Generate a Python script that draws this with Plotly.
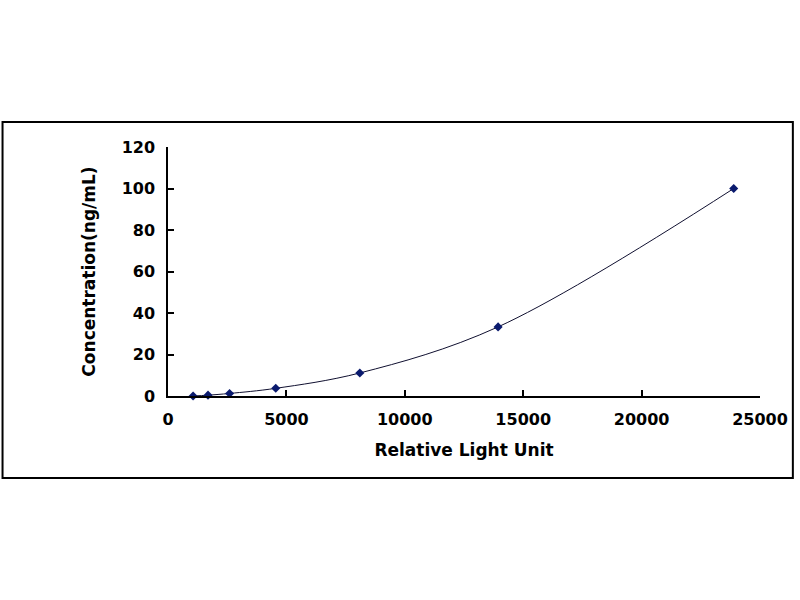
import plotly.graph_objects as go

# standard curve
rlu = [1060, 1690, 2600, 4550, 8100, 13940, 23890]
conc = [0, 0.41, 1.23, 3.7, 11.1, 33.3, 100]

x_ticks = [0, 5000, 10000, 15000, 20000, 25000]
x_labels = ["0", "5000", "10000", "15000", "20000", "25000"]
y_ticks = [0, 20, 40, 60, 80, 100, 120]

font_main = "DejaVu Sans"

fig = go.Figure()
fig.add_trace(go.Scatter(
    x=rlu, y=conc, mode="lines+markers",
    line=dict(color="#101030", width=1, shape="spline", smoothing=1.0),
    marker=dict(symbol="diamond", size=7, color="#0a1a6e"),
    cliponaxis=False, showlegend=False,
))

fig.update_xaxes(
    range=[0, 25000], tickvals=x_ticks, ticktext=x_labels,
    ticks="inside", ticklen=6, tickwidth=1.5,
    tickcolor="black", showline=True, linecolor="black", linewidth=1.5,
    showgrid=False, zeroline=False, ticklabelstandoff=8,
    tickfont=dict(family=font_main, size=16, color="black", weight="bold"),
    title=dict(text="Relative Light Unit", standoff=16,
               font=dict(family=font_main, size=17, color="black", weight="bold")),
)
fig.update_yaxes(
    range=[0, 120], tickvals=y_ticks, ticks="inside", ticklen=6, tickwidth=1.5,
    tickcolor="black", showline=True, linecolor="black", linewidth=1.5,
    showgrid=False, zeroline=False, ticklabelstandoff=8,
    tickfont=dict(family=font_main, size=16, color="black", weight="bold"),
    title=dict(text="Concentration(ng/mL)", standoff=22,
               font=dict(family=font_main, size=17, color="black", weight="bold")),
)

# outer frame around the chart
fig.add_shape(type="rect", xref="paper", yref="paper",
              x0=-0.2795, x1=1.0555, y0=-0.329, y1=1.100,
              line=dict(color="black", width=2), layer="below")

fig.update_layout(
    width=800, height=600,
    margin=dict(l=168, r=38, t=147, b=204),
    paper_bgcolor="white", plot_bgcolor="white",
)

fig.write_html("out.html", config={"displayModeBar": False},
               post_script="document.body.style.margin='0';")
